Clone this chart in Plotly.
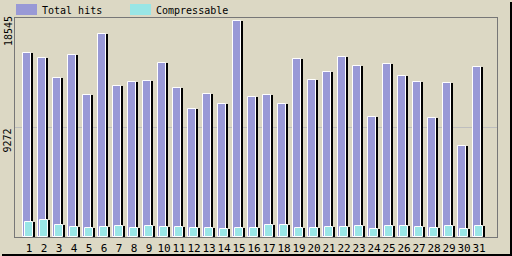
import plotly.graph_objects as go

# ---------------- data ----------------
days = list(range(1, 32))
day_labels = [str(d) for d in days]
total_hits = [15580, 15160, 13460, 15410, 12030, 17190, 12790, 13130, 13210, 14730,
              12620, 10840, 12110, 11260, 18290, 11860, 12030, 11260, 15070, 13300,
              13970, 15240, 14480, 10160, 14650, 13630, 13130, 10080, 13040, 7710, 14400]
compressable = [1270, 1440, 1020, 850, 760, 850, 930, 760, 930, 850,
                850, 760, 760, 680, 760, 760, 1020, 1020, 760, 760,
                850, 850, 930, 680, 930, 930, 850, 760, 930, 680, 930]
series_names = ["Total hits", "Compressable"]
y_tick_values = [9272, 18545]

# ---------------- style ----------------
BG = "#DCD8C4"
PURPLE = "#9999D6"
CYAN = "#99E6E6"
FONT = "DejaVu Sans Mono"
W, H = 512, 256
ML, MR, MT, MB = 15, 15, 18, 19
PW = W - ML - MR
PH = H - MT - MB
UPX = 1 / 15.0            # x units per pixel
x0 = 1 - 14 * UPX
x1 = x0 + PW * UPX


def bar_traces(values, color, left_px):
    body = go.Bar(x=days, y=values, offset=left_px * UPX, width=8 * UPX,
                  marker=dict(color=color, line=dict(color="white", width=1)),
                  showlegend=False, hoverinfo="skip")
    shade = go.Bar(x=days, y=values, offset=(left_px + 8) * UPX, width=2 * UPX,
                   marker=dict(color="black", line=dict(width=0)),
                   showlegend=False, hoverinfo="skip")
    return [body, shade]


fig = go.Figure()
for tr in bar_traces(total_hits, PURPLE, -6):
    fig.add_trace(tr)
for tr in bar_traces(compressable, CYAN, -4):
    fig.add_trace(tr)


def px_x(p):
    return (p - ML) / PW


def px_y(p):
    return (H - MB - p) / PH


shapes = []
# legend swatches
for (a, b), col in zip([(16, 37), (130, 151)], [PURPLE, CYAN]):
    shapes.append(dict(type="rect", xref="paper", yref="paper",
                       x0=px_x(a), x1=px_x(b), y0=px_y(15), y1=px_y(4),
                       fillcolor=col, line=dict(width=0), layer="above"))
# black frame shadow
shapes.append(dict(type="rect", xref="paper", yref="paper",
                   x0=px_x(510), x1=px_x(512), y0=px_y(256), y1=px_y(2),
                   fillcolor="black", line=dict(width=0), layer="above"))
shapes.append(dict(type="rect", xref="paper", yref="paper",
                   x0=px_x(2), x1=px_x(512), y0=px_y(256), y1=px_y(254),
                   fillcolor="black", line=dict(width=0), layer="above"))

annotations = []
for name, xp in zip(series_names, [40, 154]):
    annotations.append(dict(text=name, xref="paper", yref="paper",
                            x=px_x(xp), y=px_y(10), xanchor="left", yanchor="middle",
                            showarrow=False, font=dict(family=FONT, size=10, color="black")))
for v in y_tick_values:
    annotations.append(dict(text=str(v), xref="paper", yref="y",
                            x=px_x(8), y=v, xanchor="center", yanchor="middle",
                            yshift=-13, textangle=-90, showarrow=False,
                            font=dict(family=FONT, size=10, color="black")))

fig.update_layout(
    width=W, height=H, autosize=False,
    margin=dict(l=ML, r=MR, t=MT, b=MB, pad=0, autoexpand=False),
    paper_bgcolor=BG, plot_bgcolor=BG,
    barmode="overlay", bargap=0,
    shapes=shapes, annotations=annotations,
    xaxis=dict(range=[x0, x1], tickmode="array", tickvals=days, ticktext=day_labels,
               showgrid=False, zeroline=False, showline=True, mirror=True,
               linecolor="#777777", linewidth=1, ticks="", tickangle=0,
               automargin=False, ticklabelstandoff=1,
               tickfont=dict(family=FONT, size=11, color="black")),
    yaxis=dict(range=[0, y_tick_values[-1]], tickmode="array", tickvals=y_tick_values[:1],
               showticklabels=False, showgrid=True, gridcolor="#BEBEBE", gridwidth=1,
               zeroline=False, showline=True, mirror=True, automargin=False,
               linecolor="#777777", linewidth=1, ticks=""),
)

fig.write_html("out.html")
